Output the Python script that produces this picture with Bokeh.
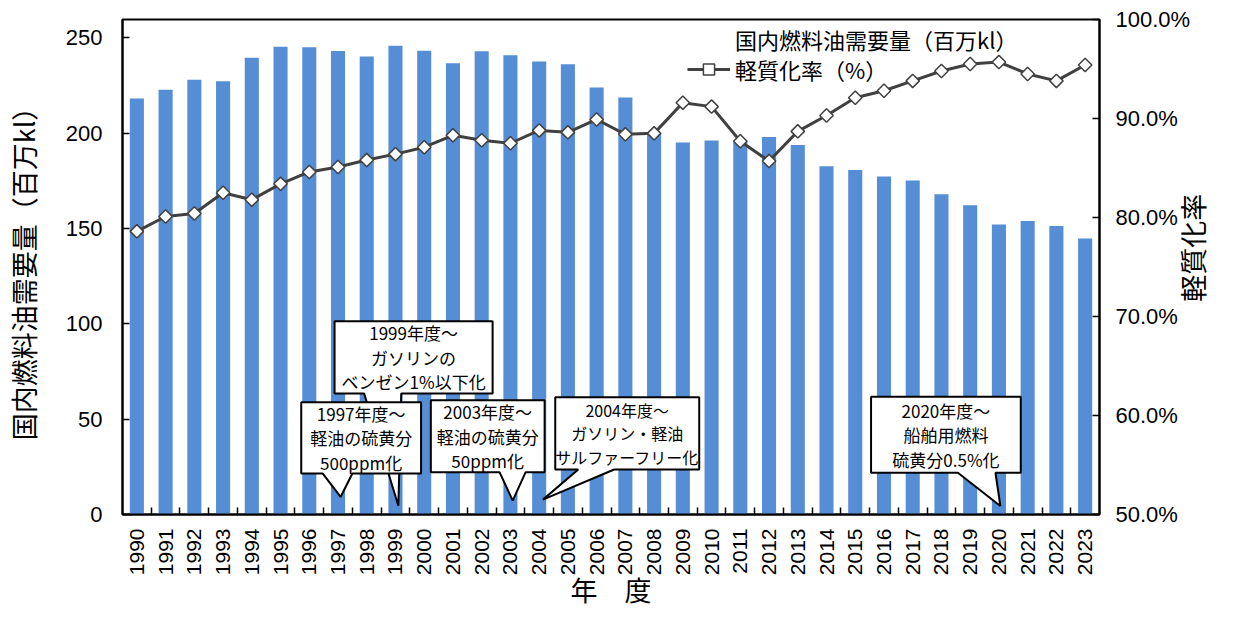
import math
from bokeh.plotting import figure
from bokeh.models import (Range1d, LinearAxis, FixedTicker, PrintfTickFormatter,
                          Legend, LegendItem, ColumnDataSource)
from bokeh.core.properties import value, field
from bokeh.embed import file_html
from bokeh.resources import INLINE

# ---------------- data ----------------
years = list(range(1990, 2024))
demand = [218.2, 222.8, 228.1, 227.3, 239.6, 245.4, 245.2, 243.2, 240.3, 245.9,
          243.3, 236.7, 243.0, 240.9, 237.6, 236.2, 224.0, 218.8, 199.5, 195.2,
          196.2, 196.0, 198.1, 193.8, 182.7, 180.7, 177.3, 175.2, 168.0, 162.2,
          152.2, 154.0, 151.3, 144.8]
ratio = [78.6, 80.1, 80.4, 82.5, 81.8, 83.4, 84.6, 85.1, 85.8, 86.4,
         87.1, 88.3, 87.8, 87.5, 88.8, 88.6, 89.9, 88.4, 88.5, 91.6,
         91.2, 87.7, 85.7, 88.7, 90.3, 92.1, 92.8, 93.8, 94.8, 95.5,
         95.7, 94.5, 93.8, 95.4]
left_ticks = [0, 50, 100, 150, 200, 250]
right_ticks = [50, 60, 70, 80, 90, 100]

series_bar = "国内燃料油需要量（百万kl）"
series_line = "軽質化率（%）"
y_title = "国内燃料油需要量（百万kl）"
y2_title = "軽質化率"
x_title = "年　度"

note_texts = ["1999年度～\nガソリンの\nベンゼン1%以下化",
              "1997年度～\n軽油の硫黄分\n500ppm化",
              "2003年度～\n軽油の硫黄分\n50ppm化",
              "2004年度～\nガソリン・軽油\nサルファーフリー化",
              "2020年度～\n船舶用燃料\n硫黄分0.5%化"]

# callout layout: box (left, right, bottom, top), tail base (x1, x2), tail tip (x, y)
note_layout = [
    ((1996.88, 2002.38, 63.5, 101.4), (1997.91, 1999.20), (1999.10, 4.6)),
    ((1995.72, 1999.89, 21.5, 58.9), (1996.47, 1997.50), (1997.09, 9.2)),
    ((2000.23, 2004.19, 22.2, 59.9), (2002.62, 2003.53), (2003.08, 7.3)),
    ((2004.56, 2009.57, 23.6, 61.5), (2005.36, 2006.61), (2004.13, 7.8)),
    ((2015.55, 2020.76, 21.9, 61.8), (2018.57, 2019.88), (2020.05, 4.5)),
]
note_font_sizes = ["17px", "17px", "17px", "16px", "17px"]

BAR = "#558ED5"
LINE = "#404040"
JP = "Noto Sans CJK JP"
LAT = "Liberation Sans"

p = figure(width=1234, height=612, output_backend="svg", toolbar_location=None,
           x_range=Range1d(1989.5, 2023.5), y_range=Range1d(0, 259.7),
           min_border_left=121, min_border_right=126, min_border_top=19,
           min_border_bottom=91)
p.extra_y_ranges = {"pct": Range1d(50, 100)}
p.xgrid.visible = False
p.ygrid.visible = False
p.outline_line_color = "black"
p.outline_line_width = 2
p.background_fill_color = "white"

# bars
bars = p.vbar(x=years, top=demand, width=0.49, fill_color=BAR, line_color=None)

# line with markers
line_r = p.line(years, ratio, y_range_name="pct", line_color=LINE, line_width=3)
mark_r = p.scatter(years, ratio, y_range_name="pct", marker="square", angle=math.pi / 4,
                   size=9.5, fill_color="white", line_color=LINE, line_width=1.5)

# callouts
xs, ys, tx, ty = [], [], [], []
for (l, r, b, t), (b1, b2), (tipx, tipy) in note_layout:
    xs.append([l, r, r, b2, tipx, b1, l])
    ys.append([t, t, b, b, tipy, b, b])
    tx.append((l + r) / 2)
    ty.append((b + t) / 2)
p.patches(xs, ys, fill_color="white", line_color="black", line_width=2)
note_src = ColumnDataSource(dict(x=tx, y=ty, text=note_texts, fs=note_font_sizes))
p.text(x="x", y="y", text="text", source=note_src, text_align="center",
       text_baseline="middle", text_font=value(JP), text_font_size=field("fs"),
       text_color="black", text_line_height=0.98)

# axes
xa = p.xaxis[0]
xa.ticker = FixedTicker(ticks=years, minor_ticks=[y + 0.5 for y in years[:-1]])
xa.major_label_orientation = math.pi / 2
xa.major_tick_in = 0
xa.major_tick_out = 0
xa.minor_tick_in = 7
xa.minor_tick_out = 0
xa.minor_tick_line_color = "black"
xa.minor_tick_line_width = 1.5
xa.axis_line_color = "black"
xa.axis_line_width = 2
xa.major_label_text_font = LAT
xa.major_label_text_font_size = "21px"
xa.major_label_text_color = "black"
xa.major_label_standoff = 14
xa.axis_label = x_title
xa.axis_label_text_font = JP
xa.axis_label_text_font_size = "27px"
xa.axis_label_text_font_style = "normal"
xa.axis_label_text_color = "black"
xa.axis_label_standoff = -8

ya = p.yaxis[0]
ya.ticker = FixedTicker(ticks=left_ticks)
ya.major_tick_in = 7
ya.major_tick_out = 0
ya.minor_tick_in = 0
ya.minor_tick_out = 0
ya.major_tick_line_color = "black"
ya.major_tick_line_width = 1.5
ya.axis_line_color = "black"
ya.axis_line_width = 2
ya.major_label_text_font = LAT
ya.major_label_text_font_size = "22px"
ya.major_label_text_color = "black"
ya.major_label_standoff = 20
ya.axis_label = y_title
ya.axis_label_text_font = JP
ya.axis_label_text_font_size = "27px"
ya.axis_label_text_font_style = "normal"
ya.axis_label_text_color = "black"
ya.axis_label_standoff = 20

ra = LinearAxis(y_range_name="pct", ticker=FixedTicker(ticks=right_ticks),
                formatter=PrintfTickFormatter(format="%.1f%%"))
ra.major_tick_in = 7
ra.major_tick_out = 0
ra.minor_tick_in = 0
ra.minor_tick_out = 0
ra.major_tick_line_color = "black"
ra.major_tick_line_width = 1.5
ra.axis_line_color = "black"
ra.axis_line_width = 2
ra.major_label_text_font = LAT
ra.major_label_text_font_size = "22px"
ra.major_label_text_color = "black"
ra.major_label_standoff = 16
p.add_layout(ra, "right")

# right-hand title, drawn as a single rotated label reading bottom-to-top
ra2 = LinearAxis(y_range_name="pct", ticker=FixedTicker(ticks=[71.5]),
                 major_label_overrides={71.5: y2_title})
ra2.major_label_orientation = math.pi / 2
ra2.major_tick_in = 0
ra2.major_tick_out = 0
ra2.minor_tick_in = 0
ra2.minor_tick_out = 0
ra2.axis_line_color = None
ra2.major_label_text_font = JP
ra2.major_label_text_font_size = "27px"
ra2.major_label_text_color = "black"
ra2.major_label_standoff = -1
p.add_layout(ra2, "right")

# legend (one legend per row so the rows sit where the reference has them)
dummy = p.line(x=[], y=[], line_color=BAR, line_width=12, line_cap="butt")
common = dict(padding=0, margin=0, spacing=0, glyph_width=43, glyph_height=28,
              label_standoff=5, border_line_color=None, background_fill_alpha=0,
              label_text_font=JP, label_text_font_size="22px", label_text_color="black")
leg1 = Legend(items=[LegendItem(label=series_bar, renderers=[dummy])],
              location=(565, 459), **common)
leg2 = Legend(items=[LegendItem(label=series_line, renderers=[line_r, mark_r])],
              location=(565, 429), **common)
p.add_layout(leg1, "center")
p.add_layout(leg2, "center")

open("out.html", "w").write(file_html(p, INLINE))
